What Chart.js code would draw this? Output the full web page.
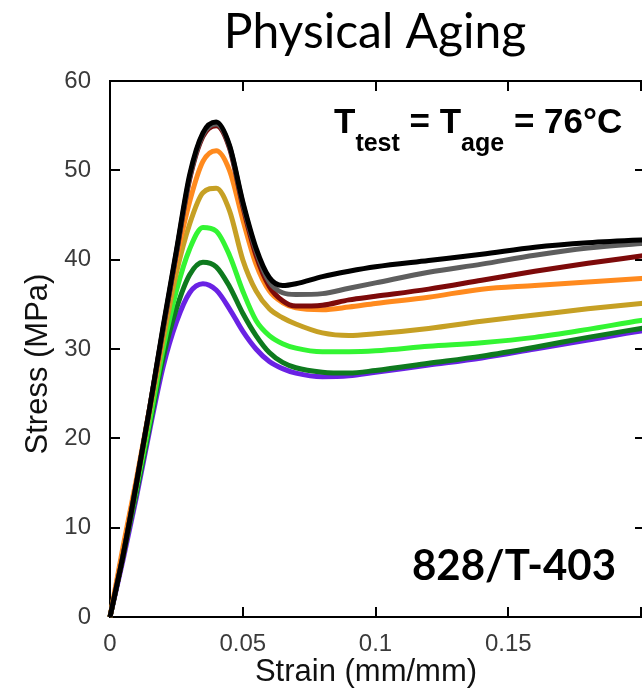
<!DOCTYPE html>
<html>
<head>
<meta charset="utf-8">
<script src="https://cdn.jsdelivr.net/npm/chart.js@4/dist/chart.umd.min.js"></script>
<style>
  html, body { margin: 0; padding: 0; background: #fff; overflow: hidden; width: 642px; height: 693px; }
  canvas { display: block; }
</style>
</head>
<body>
<canvas id="c" width="660" height="693" style="width:660px;height:693px"></canvas>
<script>
// Strain sampling points (mm/mm) shared by every curve
const strain = [0, 0.005, 0.01, 0.015, 0.02, 0.025, 0.03, 0.035, 0.04, 0.045, 0.05, 0.055, 0.06, 0.065, 0.07, 0.08, 0.09, 0.1, 0.12, 0.14, 0.16, 0.18, 0.2, 0.21];

// Stress (MPa) for each aging condition
const stressBlack    = [0, 7, 15, 23.5, 32.5, 41, 49.5, 54.2, 55.4, 52.8, 46.5, 41.3, 38.0, 37.1, 37.3, 38.1, 38.7, 39.2, 39.9, 40.6, 41.4, 41.9, 42.2, 42.3];
const stressGray     = [0, 7, 15, 23.5, 32.3, 40.8, 49.2, 54.0, 55.2, 52.7, 46.3, 41.0, 37.5, 36.3, 36.1, 36.2, 36.8, 37.4, 38.6, 39.5, 40.5, 41.3, 41.8, 42.0];
const stressMaroon   = [0, 7, 15, 23.5, 32.2, 40.7, 49.0, 53.8, 55.0, 52.5, 46.0, 40.5, 37.0, 35.4, 34.8, 34.9, 35.5, 35.9, 36.7, 37.7, 38.7, 39.6, 40.4, 40.8];
const stressOrange   = [0, 8, 15.5, 23.5, 32, 40, 46.5, 51.0, 52.2, 50.0, 44.5, 39.5, 36.5, 35.2, 34.6, 34.4, 34.7, 35.1, 35.8, 36.7, 37.1, 37.5, 37.9, 38.1];
const stressGold     = [0, 7.5, 15, 23, 31, 38.5, 44, 47.5, 48.0, 45.5, 40.0, 36.5, 34.5, 33.5, 32.8, 31.8, 31.5, 31.7, 32.3, 33.1, 33.8, 34.5, 35.1, 35.4];
const stressLime     = [0, 7, 14.5, 22, 30, 36.5, 41.2, 43.6, 43.2, 40.5, 36.5, 33.2, 31.5, 30.6, 30.1, 29.7, 29.7, 29.8, 30.3, 30.7, 31.3, 32.2, 33.2, 33.6];
const stressGreen    = [0, 7, 14, 21.5, 29, 34.5, 38.3, 39.7, 39.2, 37.0, 34.0, 31.5, 29.6, 28.5, 27.9, 27.4, 27.3, 27.6, 28.4, 29.2, 30.2, 31.3, 32.3, 32.8];
const stressPurple   = [0, 6.5, 13.5, 21, 28, 33, 36.3, 37.3, 36.6, 34.5, 32.0, 30.0, 28.6, 27.8, 27.3, 26.9, 27.0, 27.4, 28.2, 29.0, 30.0, 31.0, 32.0, 32.4];

const seriesColors = ['#000000', '#5e5e5e', '#7d0a0a', '#ff8a1e', '#c6a024', '#33f533', '#0e7a1e', '#6a22e4'];
const seriesValues = [stressBlack, stressGray, stressMaroon, stressOrange, stressGold, stressLime, stressGreen, stressPurple];

const xTicks = [0, 0.05, 0.1, 0.15];
const yTicks = [0, 10, 20, 30, 40, 50, 60];

const toPoints = arr => strain.map((x, i) => ({ x: x, y: arr[i] }));

const datasets = seriesValues.map((vals, i) => ({
  data: toPoints(vals),
  borderColor: seriesColors[i],
  borderWidth: 5,
  pointRadius: 0,
  fill: false,
  cubicInterpolationMode: 'monotone',
  clip: 4
}));

const axisFont = '"Liberation Sans", Arial, sans-serif';

// Frame around the plot with inward tick marks on all four sides, plus the text
const framePlugin = {
  id: 'frame',
  beforeDatasetsDraw(chart) {
    const { ctx, chartArea: a, scales } = chart;
    ctx.save();
    ctx.strokeStyle = '#000';
    ctx.lineWidth = 2;
    ctx.strokeRect(a.left, a.top, a.right - a.left, a.bottom - a.top);
    const len = 10;
    ctx.beginPath();
    xTicks.concat([0.2]).forEach(v => {
      if (v === 0) return;
      const px = Math.round(scales.x.getPixelForValue(v));
      ctx.moveTo(px, a.bottom); ctx.lineTo(px, a.bottom - len);
      ctx.moveTo(px, a.top); ctx.lineTo(px, a.top + len);
    });
    yTicks.forEach(v => {
      if (v === 0 || v === 60) return;
      const py = Math.round(scales.y.getPixelForValue(v));
      ctx.moveTo(a.left, py); ctx.lineTo(a.left + len, py);
      ctx.moveTo(a.right, py); ctx.lineTo(a.right - len, py);
    });
    ctx.stroke();
    ctx.restore();
  },
  afterDraw(chart) {
    const { ctx } = chart;
    ctx.save();
    ctx.fillStyle = '#000';
    ctx.textBaseline = 'alphabetic';
    // Main heading
    ctx.font = '48px Lato, "Open Sans", sans-serif';
    ctx.textAlign = 'center';
    ctx.fillText('Physical Aging', 375, 48);

    // Axis titles
    ctx.fillStyle = '#111';
    ctx.font = '31px ' + axisFont;
    ctx.textBaseline = 'middle';
    ctx.fillText('Strain (mm/mm)', 366, 672);
    ctx.save();
    ctx.translate(38, 364);
    ctx.rotate(-Math.PI / 2);
    ctx.fillText('Stress (MPa)', 0, 0);
    ctx.restore();

    // Test / aging temperature
    ctx.fillStyle = '#000';
    ctx.textBaseline = 'alphabetic';
    ctx.textAlign = 'left';
    const big = 'bold 35px ' + axisFont;
    const small = 'bold 25px ' + axisFont;
    let x = 334;
    const base = 133, subBase = 151;
    const parts = [
      ['T', big, base], ['test', small, subBase], [' = T', big, base], ['age', small, subBase], [' = 76°C', big, base]
    ];
    parts.forEach(([t, f, b]) => {
      ctx.font = f;
      ctx.fillText(t, x, b);
      x += ctx.measureText(t).width;
    });

    // Material system label
    ctx.font = 'bold 42px Lato, "Open Sans", sans-serif';
    ctx.fillText('828/T-403', 412, 580);
    ctx.restore();
  }
};

new Chart(document.getElementById('c'), {
  type: 'line',
  data: { datasets: datasets },
  options: {
    responsive: false,
    animation: false,
    layout: { padding: { left: 0, top: 81, right: 15, bottom: 0 } },
    plugins: { legend: { display: false }, tooltip: { enabled: false } },
    scales: {
      x: {
        type: 'linear',
        min: 0,
        max: 0.2015,
        afterBuildTicks: s => { s.ticks = xTicks.map(v => ({ value: v })); },
        afterFit: s => { s.height = 76; },
        grid: { display: false },
        border: { display: true, color: '#000', width: 2 },
        ticks: {
          color: '#3a3a3a',
          padding: 5,
          font: { family: axisFont, size: 24 },
          callback: v => String(v)
        }
      },
      y: {
        type: 'linear',
        min: 0,
        max: 60,
        afterBuildTicks: s => { s.ticks = yTicks.map(v => ({ value: v })); },
        afterFit: s => { s.width = 110; },
        grid: { display: false },
        border: { display: true, color: '#000', width: 2 },
        ticks: {
          color: '#3a3a3a',
          padding: 11,
          font: { family: axisFont, size: 24 }
        }
      }
    }
  },
  plugins: [framePlugin]
});
</script>
</body>
</html>
